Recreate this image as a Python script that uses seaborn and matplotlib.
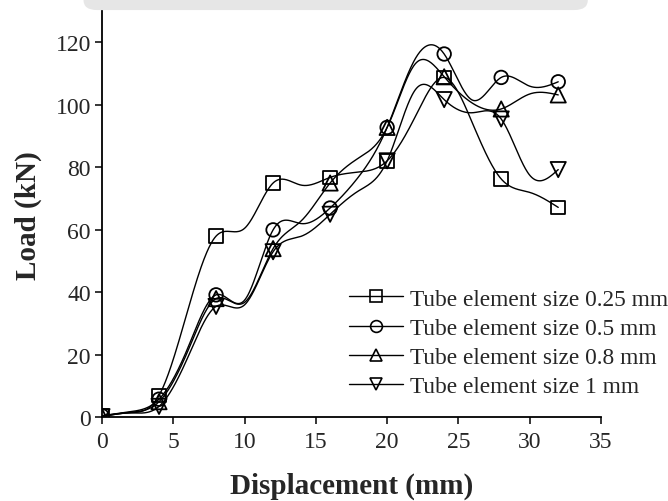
import numpy as np
import pandas as pd
import matplotlib
matplotlib.use("Agg")
import matplotlib.pyplot as plt
from matplotlib.lines import Line2D
from matplotlib.patches import FancyBboxPatch
import seaborn as sns

# Displacement (mm) at which the load curves are sampled
disp = [0, 2, 4, 6, 8, 10, 12, 14, 16, 18, 20, 22, 24, 26, 28, 30, 32]

# Load (kN) for each tube element size
load_025 = [0.5, 1.5, 7.0, 34.0, 58.0, 60.5, 75.0, 74.3, 76.8, 78.5, 82.1, 96.5, 108.8, 94.0, 76.3, 72.0, 67.2]
load_05 = [0.5, 1.8, 5.8, 22.0, 39.2, 37.5, 60.0, 62.0, 67.0, 77.0, 92.8, 115.0, 116.3, 101.5, 108.8, 106.0, 107.4]
load_08 = [0.3, 1.6, 5.0, 21.0, 38.0, 36.8, 54.0, 63.0, 75.0, 83.0, 92.8, 113.3, 109.0, 100.5, 98.7, 103.5, 103.2]
load_1 = [0.2, 1.4, 3.5, 19.0, 35.5, 36.0, 53.0, 58.0, 65.0, 72.5, 82.1, 105.0, 101.7, 97.5, 95.5, 77.5, 79.3]

# Markers are placed every 4 mm
marker_disp = [0, 4, 8, 12, 16, 20, 24, 28, 32]

labels = ["Tube element size 0.25 mm", "Tube element size 0.5 mm",
          "Tube element size 0.8 mm", "Tube element size 1 mm"]
marker_shapes = ["s", "o", "^", "v"]
series = [load_025, load_05, load_08, load_1]


def natural_spline(x, y, xs):
    """Natural cubic spline through (x, y), evaluated at xs."""
    x = np.asarray(x, float)
    y = np.asarray(y, float)
    n = len(x)
    h = np.diff(x)
    A = np.zeros((n, n))
    b = np.zeros(n)
    A[0, 0] = A[-1, -1] = 1.0
    for i in range(1, n - 1):
        A[i, i - 1] = h[i - 1]
        A[i, i] = 2 * (h[i - 1] + h[i])
        A[i, i + 1] = h[i]
        b[i] = 6 * ((y[i + 1] - y[i]) / h[i] - (y[i] - y[i - 1]) / h[i - 1])
    M = np.linalg.solve(A, b)
    idx = np.clip(np.searchsorted(x, xs) - 1, 0, n - 2)
    x0, x1 = x[idx], x[idx + 1]
    hh = x1 - x0
    t0 = x1 - xs
    t1 = xs - x0
    return (M[idx] * t0 ** 3 / (6 * hh) + M[idx + 1] * t1 ** 3 / (6 * hh)
            + (y[idx] / hh - M[idx] * hh / 6) * t0
            + (y[idx + 1] / hh - M[idx + 1] * hh / 6) * t1)


sns.set_theme(style="ticks")
plt.rcParams["font.family"] = ["Liberation Serif", "DejaVu Serif"]
plt.rcParams["mathtext.fontset"] = "stix"

fig = plt.figure(figsize=(6.68, 5.02), dpi=100)
fig.patch.set_facecolor("white")

# faint grey band along the top edge
band = FancyBboxPatch((0.125, 0.978), 0.755, 0.05, boxstyle="round,pad=0,rounding_size=0.02",
                      transform=fig.transFigure, facecolor="#e6e6e6", edgecolor="none", zorder=0)
fig.patches.append(band)

ax = fig.add_axes([0.1527, 0.1667, 0.7470, 0.8090])
ax.set_facecolor("white")

xs = np.linspace(0, 32, 641)
curve_frames = []
marker_frames = []
for lab, vals in zip(labels, series):
    curve_frames.append(pd.DataFrame({"disp": xs, "load": natural_spline(disp, vals, xs), "size": lab}))
    mvals = [v for d, v in zip(disp, vals) if d in marker_disp]
    marker_frames.append(pd.DataFrame({"disp": marker_disp, "load": mvals, "size": lab}))
curves = pd.concat(curve_frames, ignore_index=True)
points = pd.concat(marker_frames, ignore_index=True)

sns.lineplot(data=curves, x="disp", y="load", units="size", estimator=None, sort=False,
             color="black", linewidth=1.0, ax=ax, legend=False)

for lab, m in zip(labels, marker_shapes):
    sub = points[points["size"] == lab]
    size = 95 if m in "so" else 120
    sns.scatterplot(data=sub, x="disp", y="load", marker=m, s=size, facecolors="none",
                    edgecolor="black", linewidth=1.3, ax=ax, legend=False, zorder=3)

ax.set_xlim(0, 35)
ax.set_ylim(0, 130)
ax.set_xticks([0, 5, 10, 15, 20, 25, 30, 35])
ax.set_yticks([0, 20, 40, 60, 80, 100, 120])
ax.tick_params(axis="both", direction="out", length=5, width=1.1, labelsize=17, pad=3, color="black")
ax.tick_params(axis="x", pad=5)
sns.despine(ax=ax)
for sp in ["left", "bottom"]:
    ax.spines[sp].set_linewidth(1.3)
    ax.spines[sp].set_color("black")

ax.set_xlabel("Displacement (mm)", fontsize=21, fontweight="bold", labelpad=14)
ax.set_ylabel("Load (kN)", fontsize=21, fontweight="bold", labelpad=10)

handles = [Line2D([0], [0], color="black", linewidth=1.0, marker=m, markersize=8.5,
                  markerfacecolor="none", markeredgecolor="black", markeredgewidth=1.2)
           for m in marker_shapes]
ax.legend(handles, labels, loc="lower right", bbox_to_anchor=(1.0, 0.207),
          bbox_transform=fig.transFigure, frameon=False, fontsize=16.8,
          handlelength=2.3, handletextpad=0.3, labelspacing=0.335, borderaxespad=0.0,
          borderpad=0.0)

fig.savefig("out.png", dpi=100, facecolor="white")
